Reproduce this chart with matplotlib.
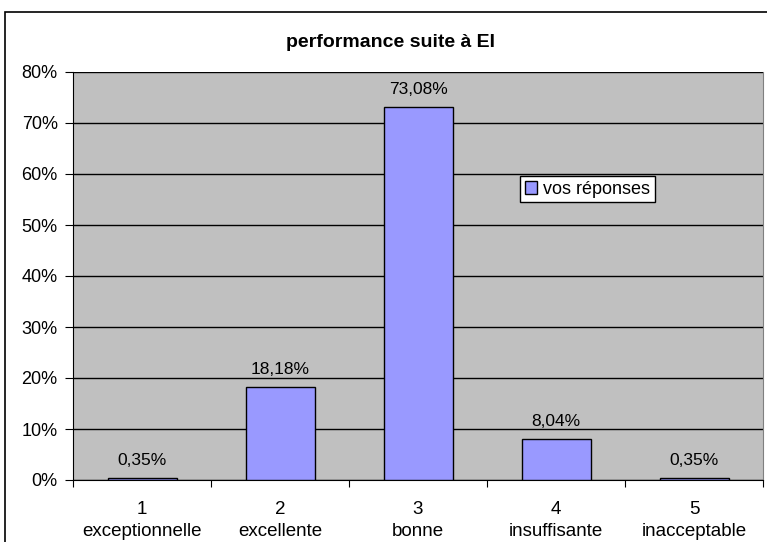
import matplotlib
matplotlib.use("Agg")
import matplotlib.pyplot as plt
from matplotlib.patches import Rectangle

# réponses au questionnaire
niveaux = ["1\nexceptionnelle", "2\nexcellente", "3\nbonne", "4\ninsuffisante", "5\ninacceptable"]
pourcentages = [0.35, 18.18, 73.08, 8.04, 0.35]
graduations = [0, 10, 20, 30, 40, 50, 60, 70, 80]

plt.rcParams['font.family'] = ['Liberation Sans', 'DejaVu Sans']

W, H = 767, 542
fig = plt.figure(figsize=(W / 100, H / 100), dpi=100)

# cadre du graphique (dépasse à droite et en bas)
fig.patches.append(Rectangle((5 / W, -0.1), 1.2, 1 - 12 / H + 0.1,
                             transform=fig.transFigure, fill=False,
                             edgecolor='black', linewidth=1.2))

ax = fig.add_axes([73 / W, 1 - 480 / H, (763 - 73) / W, (480 - 72) / H])
ax.set_facecolor('#C0C0C0')

x = range(len(niveaux))
barres = ax.bar(x, pourcentages, width=0.5, color='#9999FF',
                edgecolor='black', linewidth=1, label='vos réponses', zorder=3)

for xi, v in zip(x, pourcentages):
    ax.text(xi, v + 2.0, f"{v:.2f}%".replace('.', ','), ha='center',
            va='bottom', fontsize=12.5, zorder=4)

ax.set_xlim(-0.5, len(niveaux) - 0.5)
ax.set_ylim(0, 80)
ax.set_yticks(graduations)
ax.set_yticklabels([f"{g}%" for g in graduations])
ax.yaxis.grid(True, color='black', linewidth=1, zorder=1)
ax.set_axisbelow(True)

# graduations de l'axe X entre les catégories
ax.set_xticks([i - 0.5 for i in range(len(niveaux) + 1)])
ax.set_xticklabels([])
ax.set_xticks(list(x), minor=True)
ax.set_xticklabels(niveaux, minor=True, fontsize=13.5, linespacing=1.4)
ax.tick_params(axis='x', which='minor', length=0, pad=15)
ax.tick_params(axis='x', which='major', length=5, direction='out', color='black')
ax.tick_params(axis='y', length=6, labelsize=13, pad=5)

ax.spines['top'].set_visible(False)
ax.spines['right'].set_color('#808080')
ax.spines['left'].set_color('black')
ax.spines['bottom'].set_color('black')

fig.text(390 / W, 1 - 42 / H, "performance suite à EI", ha='center',
         va='center', fontsize=14, fontweight='bold')

leg = ax.legend(loc='upper left', bbox_to_anchor=((520 - 73) / 690, (480 - 176) / 408),
                fontsize=13, frameon=True, fancybox=False, borderpad=0.25,
                handlelength=0.7, handleheight=0.7, handletextpad=0.35,
                borderaxespad=0)
leg.get_frame().set_edgecolor('black')
leg.get_frame().set_facecolor('white')
leg.get_frame().set_alpha(1)

fig.savefig("out.png", dpi=100, facecolor='white')
